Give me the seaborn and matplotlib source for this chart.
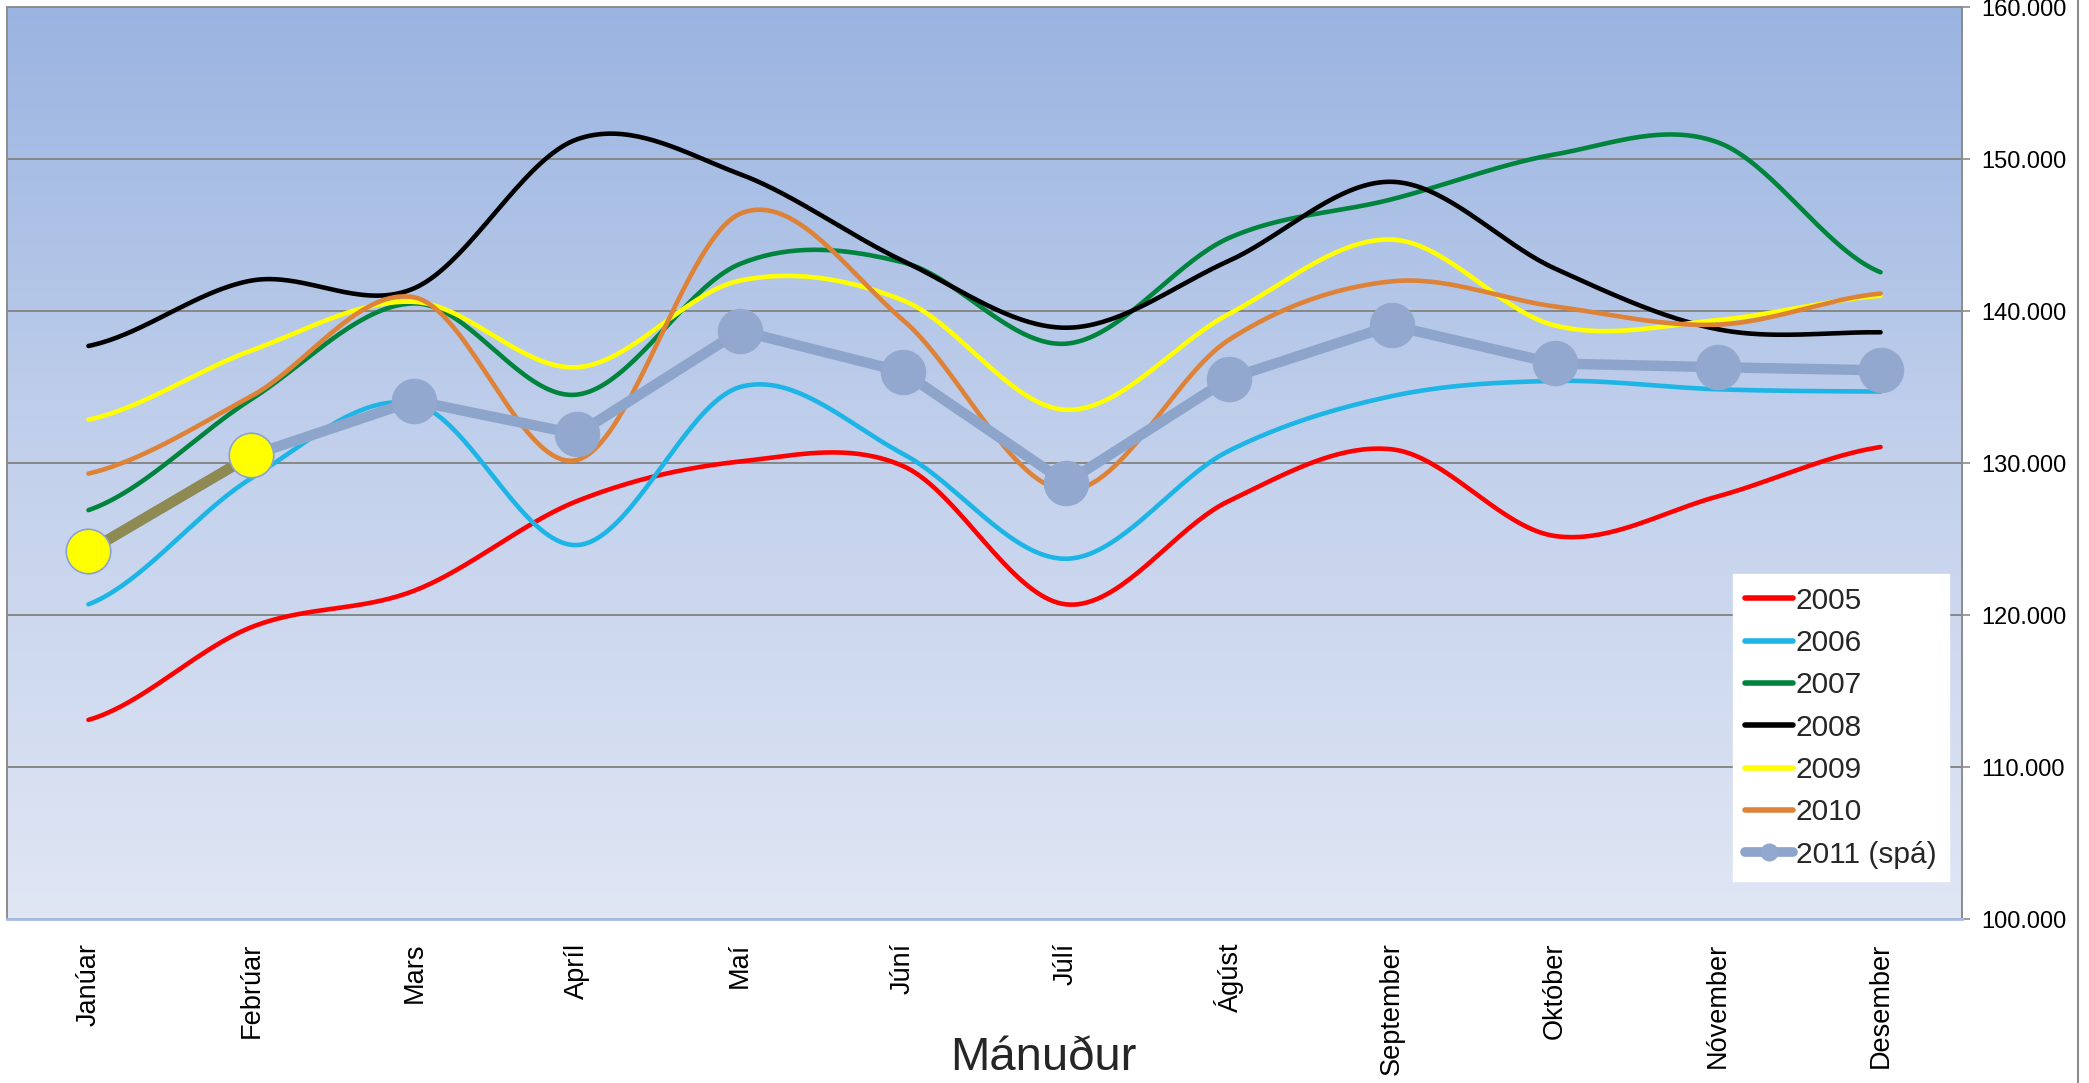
import numpy as np
import pandas as pd
import matplotlib
matplotlib.use("Agg")
import matplotlib.pyplot as plt
import seaborn as sns
from matplotlib.lines import Line2D
from matplotlib.colors import LinearSegmentedColormap

months = ['Janúar', 'Febrúar', 'Mars', 'Apríl', 'Maí', 'Júní', 'Júlí',
          'Ágúst', 'September', 'Október', 'Nóvember', 'Desember']

y2005 = [113.1, 119.2, 121.6, 127.5, 130.1, 129.8, 120.7, 127.5, 130.9, 125.2, 127.8, 131.05]
y2006 = [120.7, 129.0, 133.9, 124.6, 135.0, 130.6, 123.7, 130.8, 134.4, 135.4, 134.85, 134.7]
y2007 = [126.9, 134.2, 140.5, 134.5, 143.1, 143.2, 137.85, 144.8, 147.35, 150.3, 151.1, 142.55]
y2008 = [137.7, 142.0, 141.5, 151.3, 149.0, 143.3, 138.9, 143.3, 148.5, 142.8, 138.8, 138.6]
y2009 = [132.85, 137.4, 140.6, 136.3, 142.0, 140.7, 133.5, 139.8, 144.7, 139.05, 139.4, 141.0]
y2010 = [129.3, 134.4, 140.9, 130.2, 146.4, 139.4, 128.2, 138.1, 141.95, 140.3, 139.1, 141.15]
y2011 = [124.2, 130.5, 134.1, 131.9, 138.7, 136.0, 128.7, 135.55, 139.05, 136.55, 136.3, 136.1]

series_names = ['2005', '2006', '2007', '2008', '2009', '2010']
series_vals = [y2005, y2006, y2007, y2008, y2009, y2010]
series_colors = ['#FF0000', '#1CB5E6', '#00843D', '#000000', '#FFFF00', '#DD8236']
label_2011 = '2011 (spá)'

y_ticks = [100, 110, 120, 130, 140, 150, 160]


def smooth(vals, n=40):
    """Catmull-Rom rendering of a series (Excel-style smoothed line)."""
    y = np.asarray(vals, float)
    ext = np.concatenate([[y[0]], y, [y[-1]]])
    xs, ys = [], []
    for i in range(len(y) - 1):
        p0, p1, p2, p3 = ext[i], ext[i + 1], ext[i + 2], ext[i + 3]
        t = np.linspace(0, 1, n, endpoint=(i == len(y) - 2))
        m1 = (p2 - p0) / 2
        m2 = (p3 - p1) / 2
        h00 = 2 * t**3 - 3 * t**2 + 1
        h10 = t**3 - 2 * t**2 + t
        h01 = -2 * t**3 + 3 * t**2
        h11 = t**3 - t**2
        xs.append(i + t)
        ys.append(h00 * p1 + h10 * m1 + h01 * p2 + h11 * m2)
    return np.concatenate(xs), np.concatenate(ys)


sns.set_theme(style='white')
plt.rcParams['font.family'] = ['Liberation Sans', 'DejaVu Sans']

W, H = 2089, 1083
fig = plt.figure(figsize=(W / 100, H / 100), dpi=100)
fig.patch.set_facecolor('white')
L, R, T, B = 7, 1962, 7, 919
ax = fig.add_axes([L / W, 1 - B / H, (R - L) / W, (B - T) / H])

# background gradient
cmap = LinearSegmentedColormap.from_list('bg', ['#E0E6F4', '#C3D1EC', '#9AB4E1'])
grad = np.linspace(0, 1, 256).reshape(-1, 1)
ax.imshow(grad, extent=[0, 1, 0, 1], transform=ax.transAxes, aspect='auto',
          cmap=cmap, origin='lower', zorder=0)

# smoothed year lines
rows = []
for name, vals in zip(series_names, series_vals):
    xs, ys = smooth(vals)
    rows.append(pd.DataFrame({'x': xs, 'value': ys, 'year': name}))
df = pd.concat(rows, ignore_index=True)
sns.lineplot(data=df, x='x', y='value', hue='year', hue_order=series_names,
             palette=series_colors, estimator=None, sort=False, lw=3.3,
             legend=False, ax=ax, zorder=3)

# 2011 forecast
xi = np.arange(len(y2011))
sns.lineplot(x=xi, y=y2011, color='#8EA5CB', lw=7.5, marker='o', markersize=32,
             markerfacecolor='#93A8CE', markeredgecolor='#93A8CE',
             estimator=None, sort=False, ax=ax, zorder=5)
sns.lineplot(x=xi[:2], y=y2011[:2], color='#8E8A52', lw=7.5, estimator=None,
             sort=False, ax=ax, zorder=6)
sns.scatterplot(x=xi[:2], y=y2011[:2], s=32**2, color='#FFFF00',
                edgecolor='#8EA5CB', linewidth=1.2, ax=ax, zorder=7)

ax.set_xlim(-0.5, 11.5)
ax.set_ylim(100, 160)
ax.set_xticks(xi)
ax.set_xticklabels(months, rotation=90, fontsize=19.5)
ax.tick_params(axis='x', length=0, pad=17, colors='black')
ax.yaxis.tick_right()
ax.set_yticks(y_ticks)
ax.set_yticklabels([f"{v}.000" for v in y_ticks], fontsize=17)
ax.tick_params(axis='y', right=True, length=5.5, width=1.2, color='#8C8C8C',
               pad=8, labelcolor='black')
ax.grid(axis='y', color='#878787', lw=1.4)
ax.grid(axis='x', visible=False)
ax.set_xlabel('')
ax.set_ylabel('')
for s in ['left', 'top', 'right']:
    ax.spines[s].set_color('#8C8C8C')
    ax.spines[s].set_linewidth(1.4)
ax.spines['bottom'].set_color('#A7BDE6')
ax.spines['bottom'].set_linewidth(2)

handles = [Line2D([0], [0], color=c, lw=4, solid_capstyle='round')
           for c in series_colors]
handles.append(Line2D([0], [0], color='#8EA5CB', lw=7, marker='o',
                      markersize=12, markerfacecolor='#93A8CE',
                      markeredgecolor='#93A8CE', solid_capstyle='round'))
leg = ax.legend(handles, series_names + [label_2011], loc='upper left',
                bbox_to_anchor=(0.8827, 0.378), fontsize=21.5, frameon=True,
                fancybox=False, framealpha=1, facecolor='white',
                edgecolor='white', handlelength=1.6, handletextpad=0.1,
                labelspacing=0.48, borderpad=0.42, borderaxespad=0)
leg.set_zorder(10)

fig.text(1043 / W, 0.003, 'Mánuður', fontsize=34, ha='center', va='bottom',
         family=['Liberation Sans Narrow', 'Liberation Sans', 'DejaVu Sans'])

fig.add_artist(Line2D([2078 / W, 2078 / W], [0, 1], color='#8C8C8C', lw=1.5))

fig.savefig('out.png', dpi=100, facecolor='white')
